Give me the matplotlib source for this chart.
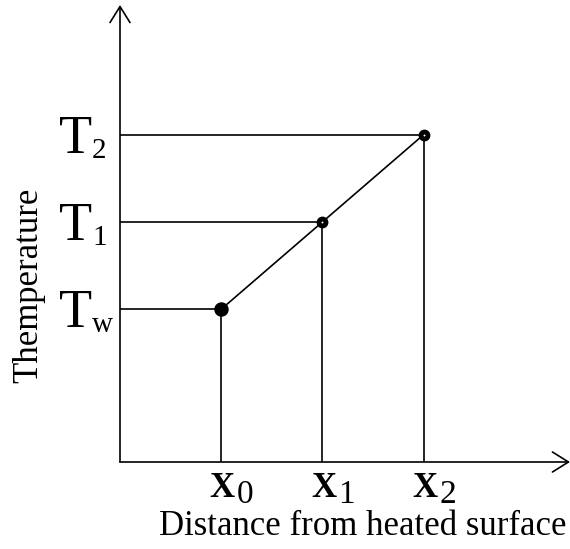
import matplotlib.pyplot as plt

# Schematic: temperature rising with distance from a heated wall
x_pos = [1.0, 2.0, 3.0]          # x0, x1, x2
temps = [1.75, 2.75, 3.75]       # Tw, T1, T2
x_subs = ['0', '1', '2']
t_subs = ['w', '1', '2']

plt.rcParams['font.family'] = ['Liberation Serif', 'DejaVu Serif']

W, H = 570, 549
fig = plt.figure(figsize=(W / 100, H / 100), dpi=100)
# origin of the axes sits at pixel (120, 462); axes run to the arrow tips
ax = fig.add_axes([120 / W, (H - 462) / H, 450 / W, 457 / H])
xmax, ymax = 449 / 101, 457 / 87.3
ax.set_xlim(0, xmax)
ax.set_ylim(0, ymax)
ax.axis('off')

lw = 1.2
arrow = dict(arrowstyle='->,head_length=1.15,head_width=0.72', lw=lw,
             color='black', shrinkA=0, shrinkB=0)
ax.annotate('', xy=(xmax, 0), xytext=(0, 0), arrowprops=arrow,
            annotation_clip=False)
ax.annotate('', xy=(0, ymax), xytext=(0, 0), arrowprops=arrow,
            annotation_clip=False)

# guide lines to both axes
for x, t in zip(x_pos, temps):
    ax.plot([0, x], [t, t], color='black', lw=lw, solid_capstyle='butt')
    ax.plot([x, x], [0, t], color='black', lw=lw, solid_capstyle='butt')

ax.plot(x_pos, temps, color='black', lw=lw)
ax.plot(x_pos[0], temps[0], 'o', color='black', ms=9.4, clip_on=False)
ax.plot(x_pos[1:], temps[1:], 'o', ls='none', mfc='white', mec='black',
        ms=5, mew=3.5, clip_on=False)

px = 0.72  # points per pixel

# T labels on the vertical axis
for t, s in zip(temps, t_subs):
    ax.annotate('T', xy=(0, t), xytext=(-28 * px, -18 * px),
                textcoords='offset points', ha='right', va='baseline',
                fontsize=39, annotation_clip=False)
    ax.annotate(s, xy=(0, t), xytext=(-28 * px, -23 * px),
                textcoords='offset points', ha='left', va='baseline',
                fontsize=21, annotation_clip=False)

# X labels under the horizontal axis
for x, s in zip(x_pos, x_subs):
    ax.annotate('X', xy=(x, 0), xytext=(1 * px, -35 * px),
                textcoords='offset points', ha='center', va='baseline',
                fontsize=25, fontweight='bold', annotation_clip=False)
    ax.annotate(s, xy=(x, 0), xytext=(16 * px, -41 * px),
                textcoords='offset points', ha='left', va='baseline',
                fontsize=24, annotation_clip=False)

fig.text(363 / W, 1 - 535 / H, 'Distance from heated surface',
         ha='center', va='baseline', fontsize=25)
fig.text(29 / W, 1 - 285 / H, 'Themperature', rotation=90,
         ha='center', va='center', fontsize=25)

fig.savefig('out.png', dpi=100)
